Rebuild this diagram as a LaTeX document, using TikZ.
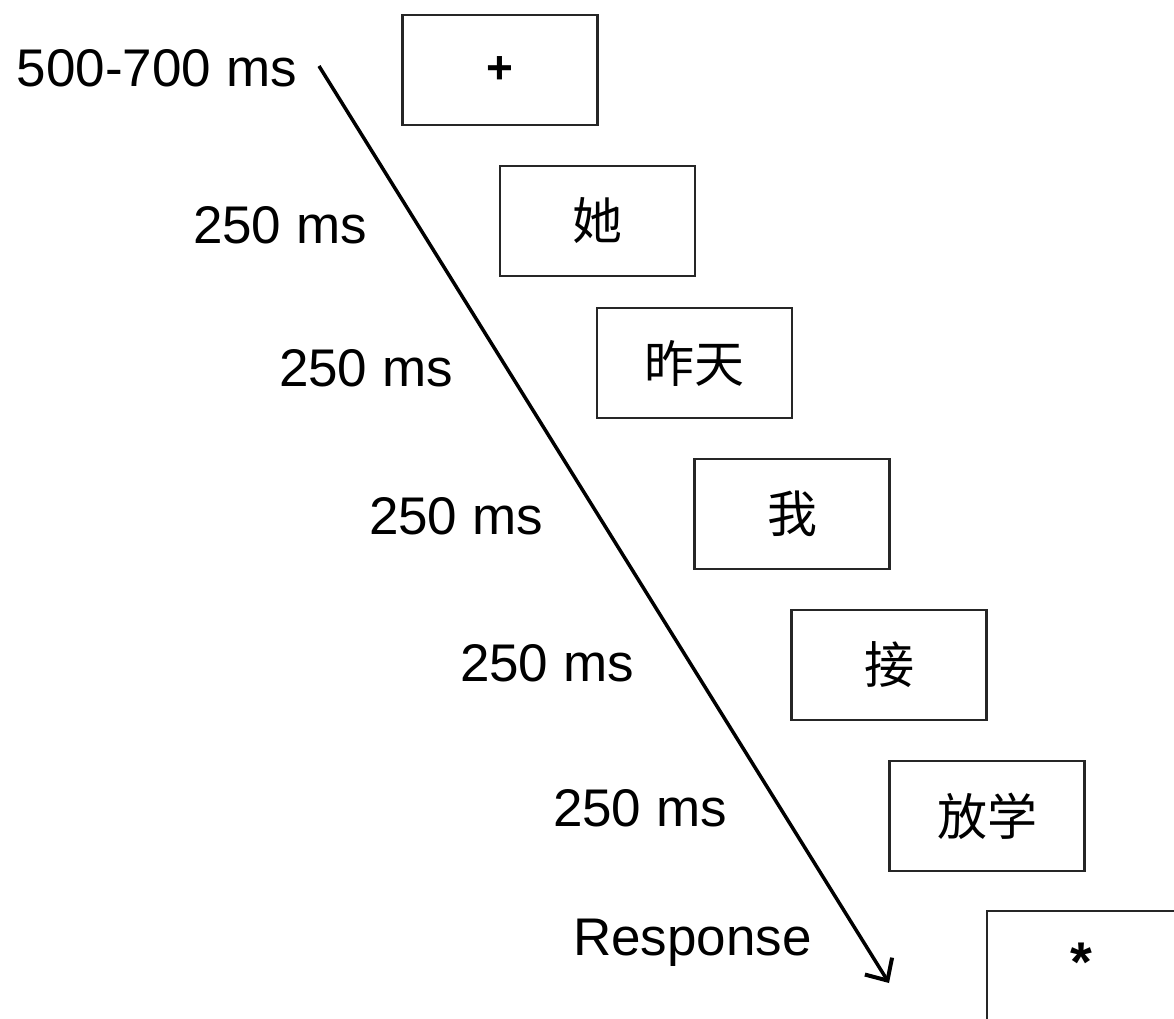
\documentclass[tikz,border=0pt]{standalone}
\usepackage{fontspec}
\setmainfont{Liberation Sans}
\newfontfamily\cjk{Noto Sans CJK SC}
\usetikzlibrary{arrows.meta}
\begin{document}
\begin{tikzpicture}[x=1pt,y=-1pt,
  frame/.style={draw=black!85,line width=2.2pt,minimum width=195pt,minimum height=110pt,inner sep=0pt},
  lbl/.style={anchor=base east,inner sep=0pt,font=\fontsize{53}{60}\selectfont},
  cjkt/.style={font=\cjk\fontsize{50}{56}\selectfont},
  sym/.style={font=\bfseries\fontsize{46}{50}\selectfont}]
\clip (0,0) rectangle (1174,1018);
\fill[white] (0,0) rectangle (1174,1018);
\node[frame,sym] (b1) at (500,70) {+};
\node[frame,cjkt] (b2) at (597.5,221) {她};
\node[frame,cjkt] (b3) at (694.5,363) {昨天};
\node[frame,cjkt] (b4) at (792,514) {我};
\node[frame,cjkt] (b5) at (889,665) {接};
\node[frame,cjkt] (b6) at (987,816) {放学};
\node[frame] (b7) at (1084.5,966) {};
\node[anchor=center,font=\bfseries\fontsize{56}{60}\selectfont] (st) at (1081,962) {*};
\node[lbl] (l1) at (297,86) {500-700 ms};
\node[lbl] (l2) at (367,243) {250 ms};
\node[lbl] (l3) at (453,386) {250 ms};
\node[lbl] (l4) at (543,534) {250 ms};
\node[lbl] (l5) at (634,681) {250 ms};
\node[lbl] (l6) at (727,826) {250 ms};
\node[lbl] (l7) at (812,955) {Response};
\coordinate (a0) at (319,66);
\coordinate (a1) at (889,983);
\draw[line width=3.5pt,-{Straight Barb[length=17pt,width=32pt,line width=4pt]}] (a0) -- (a1);
\end{tikzpicture}
\end{document}
